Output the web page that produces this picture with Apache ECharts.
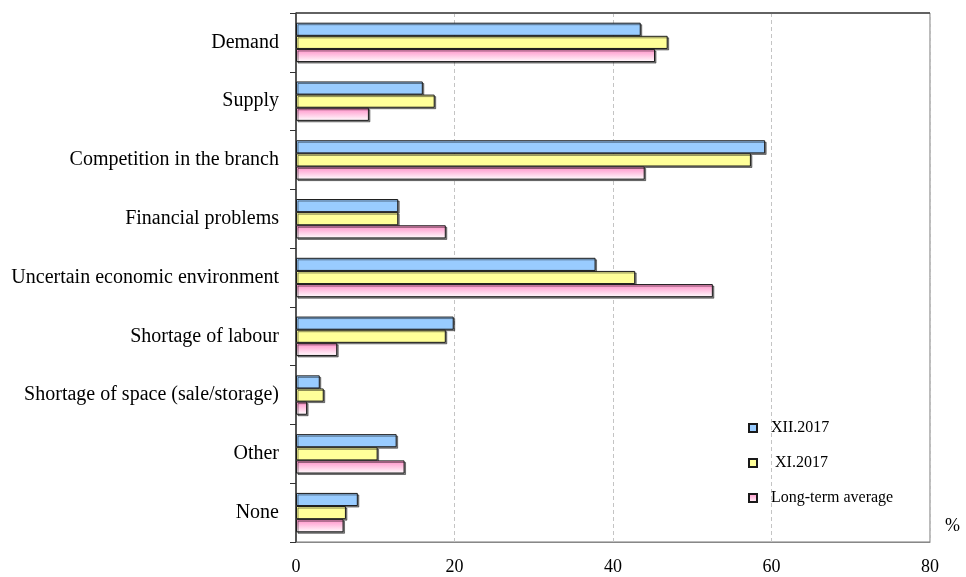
<!DOCTYPE html>
<html>
<head>
<meta charset="utf-8">
<script src="https://cdn.jsdelivr.net/npm/echarts@6/dist/echarts.min.js"></script>
<style>
  html, body { margin: 0; padding: 0; background: #fff; }
  #chart { width: 966px; height: 577px; }
</style>
</head>
<body>
<div id="chart"></div>
<script>
// categories, top to bottom
let categories = [
    "Demand",
    "Supply",
    "Competition in the branch",
    "Financial problems",
    "Uncertain economic environment",
    "Shortage of labour",
    "Shortage of space (sale/storage)",
    "Other",
    "None"
];

let seriesNames = ["XII.2017", " XI.2017", "Long-term average"];

let dec2017 = [43.5, 16.0, 59.2, 12.9, 37.8, 19.9, 3.0, 12.7, 7.8];
let nov2017 = [46.9, 17.5, 57.4, 12.9, 42.8, 18.9, 3.5, 10.3, 6.3];
let longTerm = [45.3, 9.2, 44.0, 18.9, 52.6, 5.2, 1.4, 13.7, 6.0];

let xTicks = [0, 20, 40, 60, 80];

let serif = "'Liberation Serif', 'DejaVu Serif', serif";

// 柱子样式
let barStyle = (fill) => ({
    color: fill,
    borderColor: '#1a1a1a',
    borderWidth: 1,
    shadowColor: 'rgba(0,0,0,0.45)',
    shadowOffsetX: 1.5,
    shadowOffsetY: 1.5,
    shadowBlur: 0
});

let pinkFill = new echarts.graphic.LinearGradient(0, 0, 0, 1, [
    { offset: 0, color: '#ff8cc6' },
    { offset: 1, color: '#ffffff' }
]);

let chart = echarts.init(document.getElementById('chart'), null, { renderer: 'canvas' });

let option = {
    backgroundColor: '#fff',
    animation: false,
    grid: {
        left: 296,
        right: 36,
        top: 13,
        bottom: 35,
        show: true,
        borderColor: '#777',
        borderWidth: 1
    },
    legend: {
        orient: 'vertical',
        left: 743,
        top: 415,
        itemWidth: 8,
        itemHeight: 8,
        itemGap: 19,
        icon: 'rect',
        data: seriesNames,
        textStyle: {
            fontFamily: serif,
            fontSize: 16,
            color: '#000',
            padding: [0, 0, 0, 9]
        }
    },
    xAxis: {
        type: 'value',
        min: xTicks[0],
        max: xTicks[xTicks.length - 1],
        interval: 20,
        axisLine: { show: true, lineStyle: { color: '#888', width: 1 } },
        axisTick: { show: false },
        axisLabel: {
            fontFamily: serif,
            fontSize: 18,
            color: '#000',
            margin: 16
        },
        splitLine: {
            show: true,
            lineStyle: { color: '#c4c4c4', type: [4, 3], width: 1 }
        }
    },
    yAxis: {
        type: 'category',
        inverse: true,
        data: categories,
        axisLine: { show: true, lineStyle: { color: '#333', width: 1.5 } },
        axisTick: { show: true, length: 6, lineStyle: { color: '#333' } },
        axisLabel: {
            fontFamily: serif,
            fontSize: 20,
            color: '#000',
            margin: 17
        }
    },
    series: [
        {
            name: seriesNames[0],
            type: 'bar',
            data: dec2017,
            barGap: '0%',
            barCategoryGap: '33%',
            itemStyle: barStyle('#99ccff')
        },
        {
            name: seriesNames[1],
            type: 'bar',
            data: nov2017,
            barGap: '0%',
            barCategoryGap: '33%',
            itemStyle: barStyle('#ffff99')
        },
        {
            name: seriesNames[2],
            type: 'bar',
            data: longTerm,
            barGap: '0%',
            barCategoryGap: '33%',
            itemStyle: barStyle(pinkFill)
        }
    ],
    graphic: [
        {
            type: 'text',
            left: 945,
            top: 517,
            style: {
                text: '%',
                font: "18px " + serif,
                fill: '#000'
            }
        },
        {
            // 顶部边框略深
            type: 'line',
            shape: { x1: 296, y1: 13, x2: 930, y2: 13 },
            style: { stroke: '#444', lineWidth: 1.5 },
            z: 10
        }
    ]
};

chart.setOption(option);
</script>
</body>
</html>
